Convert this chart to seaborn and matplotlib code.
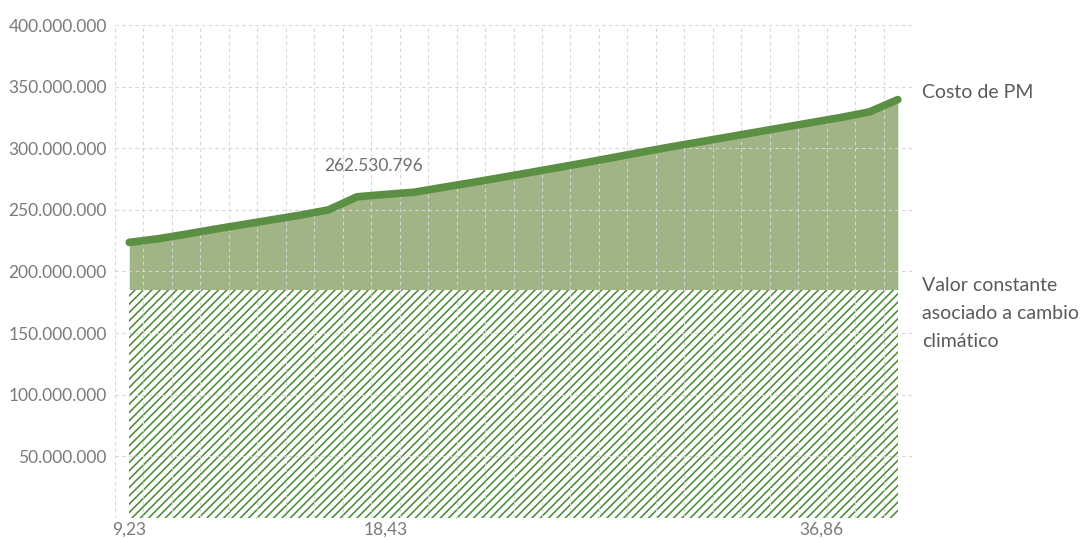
import numpy as np
import pandas as pd
import matplotlib.pyplot as plt
import matplotlib.ticker as mticker
import seaborn as sns

# costo de PM por punto (millones)
costo_pm = [223.6, 226.5, 230.3, 234.3, 238.1, 241.9, 245.7, 250.0, 260.6, 262.530796,
            264.3, 268.2, 272.0, 276.0, 280.0, 284.1, 288.2, 292.5, 296.8, 301.0,
            305.0, 309.0, 313.0, 317.0, 321.0, 325.0, 329.5, 339.5]
valor_constante = 185.0  # millones, asociado a cambio climatico
x_labels = ["9,23", "18,43", "36,86"]
x_label_pos = [0, 9, 24.3]
punto_etiqueta = 9

line_color = "#5b8f43"
fill_color = "#a0b485"
hatch_color = "#4a8c36"
grid_color = "#d6d6d6"
text_gray = "#7a7a7a"

sns.set_theme(style="white")
plt.rcParams["font.family"] = ["Lato", "DejaVu Sans"]
plt.rcParams["hatch.linewidth"] = 1.15

df = pd.DataFrame({
    "punto": np.arange(len(costo_pm)),
    "costo": np.array(costo_pm) * 1e6,
})

fig = plt.figure(figsize=(10.85, 5.40), dpi=100)
ax = fig.add_axes([0.106, 0.041, 0.7346, 0.9126])

ax.fill_between(df["punto"], valor_constante * 1e6, df["costo"], color=fill_color, lw=0, zorder=1)
ax.fill_between(df["punto"], 0, valor_constante * 1e6, facecolor="white", edgecolor=hatch_color,
                hatch="////", lw=0, zorder=1)
sns.lineplot(data=df, x="punto", y="costo", color=line_color, linewidth=5.5,
             solid_capstyle="round", solid_joinstyle="round", ax=ax, zorder=5)

ax.set_xlim(-0.5, len(costo_pm) - 0.5)
ax.set_ylim(0, 400e6)
ax.set_yticks(np.arange(0, 400e6 + 1, 50e6))
ax.yaxis.set_major_formatter(mticker.FuncFormatter(
    lambda v, _: "" if v == 0 else f"{int(v):,}".replace(",", ".")))
ax.set_xticks(x_label_pos)
ax.set_xticklabels(x_labels)
ax.set_xticks(np.arange(-0.5, len(costo_pm), 1), minor=True)

ax.set_axisbelow(False)
ax.grid(False)
ax.grid(which="minor", axis="x", color=grid_color, linestyle=(0, (3, 3)), linewidth=0.8)
ax.grid(which="major", axis="y", color=grid_color, linestyle=(0, (3, 3)), linewidth=0.8)
ax.tick_params(axis="both", which="both", length=0, colors=text_gray, labelsize=12.5)
ax.tick_params(axis="y", pad=6)
ax.tick_params(axis="x", pad=3)
ax.set_xlabel("")
ax.set_ylabel("")
for s in ax.spines.values():
    s.set_visible(False)

v = costo_pm[punto_etiqueta]
ax.text(punto_etiqueta - 0.4, 286e6, f"{int(round(v * 1e6)):,}".replace(",", "."),
        ha="center", va="center", fontsize=12.5, color="#6e6e6e")

fig.text(0.85, 0.828, "Costo de PM", ha="left", va="center", fontsize=14, color="#5a5a5a")
fig.text(0.85, 0.487, "Valor constante\nasociado a cambio\nclimático", ha="left", va="top",
         fontsize=14, color="#5a5a5a", linespacing=1.8)

fig.savefig("out.png", dpi=100)
